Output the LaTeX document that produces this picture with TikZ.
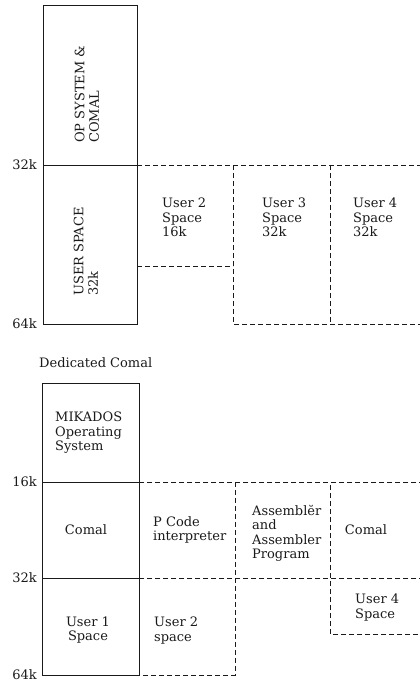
\documentclass[tikz,border=0pt]{standalone}
\usepackage{tikz}
\usepackage{fontspec}
\setmainfont{DejaVu Serif}
\usetikzlibrary{calc,positioning}
\definecolor{ink}{HTML}{1A1A1A}

\begin{document}
\begin{tikzpicture}[x=1pt, y=-1pt,
    mem/.style={line width=0.9pt, ink},
    part/.style={line width=0.8pt, ink, dash pattern=on 5pt off 3pt},
    lbl/.style={font=\fontsize{13}{14.5}\selectfont, text=ink, inner sep=0pt},
    txt/.style={lbl, align=left, anchor=north west},
    addr/.style={lbl, anchor=east}
]
    \useasboundingbox (0,0) rectangle (420,683);

    % === TOP MAP ===
    \draw[mem] (43,5) rectangle (137,324);
    \draw[mem] (43,165) -- (137,165);

    % Partitions
    \draw[part] (137,165) -- (420,165);
    \draw[part] (137,266) -- (233,266);
    \draw[part] (233,165) -- (233,324) -- (420,324);
    \draw[part] (330,165) -- (330,324);

    % Addresses
    \node[addr] (a32top) at (37,165) {32k};
    \node[addr] (a64top) at (37,324) {64k};

    % Labels
    \node[lbl, rotate=90, anchor=west, align=left] (opsys) at (87,143) {OP SYSTEM \&\\COMAL};
    \node[lbl, rotate=90, anchor=west, align=left] (user1) at (86,296) {USER SPACE\\32k};
    \node[txt] (user2) at (162,198) {User 2\\Space\\16k};
    \node[txt] (user3) at (262,198) {User 3\\Space\\32k};
    \node[txt] (user4) at (353,198) {User 4\\Space\\32k};

    % === DEDICATED COMAL ===
    \node[lbl, anchor=west] (title) at (39,363) {Dedicated Comal};

    \draw[mem] (42,383) rectangle (139,675);
    \draw[mem] (42,482) -- (139,482);
    \draw[mem] (42,578) -- (139,578);

    % Partitions
    \draw[part] (139,482) -- (420,482);
    \draw[part] (139,578) -- (420,578);
    \draw[part] (235,482) -- (235,675) -- (139,675);
    \draw[part] (330,485) -- (330,634) -- (420,634);

    % Addresses
    \node[addr] (a16) at (37,482) {16k};
    \node[addr] (a32) at (37,578) {32k};
    \node[addr] (a64) at (37,675) {64k};

    % Labels
    \node[txt] (mikados) at (55,412) {MIKADOS\\Operating\\System};
    \node[lbl] (comal1) at (86,530) {Comal};
    \node[txt] (pcode) at (153,516) {P Code\\interpreter};
    \node[txt] (asm) at (252,505) {Assembl\u{e}r\\and\\Assembler\\Program};
    \node[lbl] (comal2) at (366,530) {Comal};
    \node[txt] (user4b) at (355,594) {User 4\\Space};
    \node[lbl, align=center] (user1b) at (88,630) {User 1\\Space};
    \node[txt] (user2b) at (154,617) {User 2\\space};

\end{tikzpicture}
\end{document}
